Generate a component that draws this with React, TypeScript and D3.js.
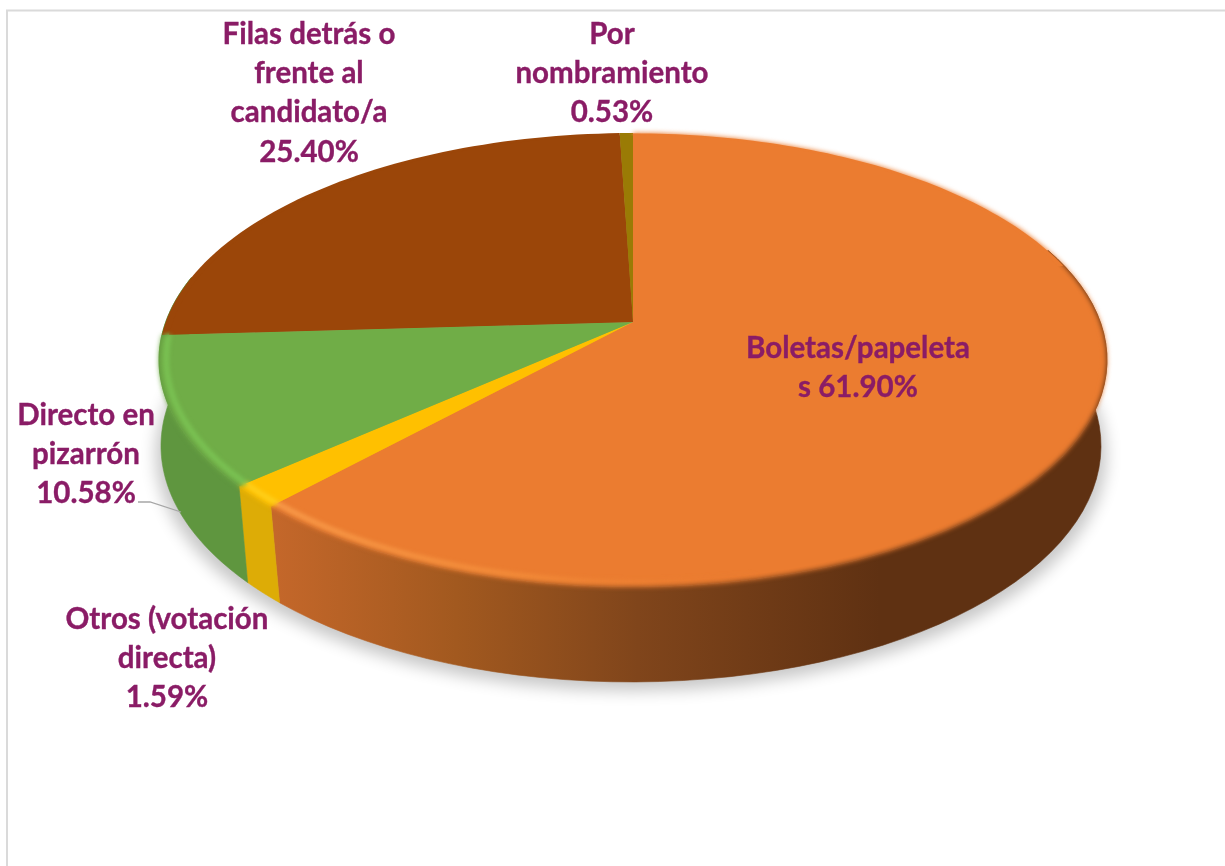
import React from "react";
import * as d3 from "d3";

const categories = ["Boletas/papeletas", "Otros (votación directa)", "Directo en pizarrón", "Filas detrás o frente al candidato/a", "Por nombramiento"];
const shares = [61.9, 1.59, 10.58, 25.4, 0.53];
const valueLabels = ["61.90%", "1.59%", "10.58%", "25.40%", "0.53%"];
const labelLines = [
  ["Boletas/papeleta", "s 61.90%"],
  ["Otros (votación", "directa)", "1.59%"],
  ["Directo en", "pizarrón", "10.58%"],
  ["Filas detrás o", "frente al", "candidato/a", "25.40%"],
  ["Por", "nombramiento", "0.53%"],
];

const W = 1225, H = 866;
const topColors = ["#EB7C30", "#FFC000", "#70AD47", "#9B4609", "#9A7B05"];
const wallColors = ["url(#wallOrange)", "#DDAC06", "#5F963F", "none", "none"];
const rimColors = ["url(#rimOrange)", "#FFD21E", "#7CC655", "none", "none"];
const labelPos = [
  { x: 858, y: 358 },
  { x: 167, y: 629 },
  { x: 86, y: 425 },
  { x: 309, y: 44 },
  { x: 612, y: 44 },
];
const lineStep = 39.2;

// Perspective projection of the unit disc onto the page
const CX = 633, CY = 322, K = 0.1674, A = 220.6, B = 467.3;
const BOT_CX = 631, BOT_CY = 414.1, BOT_K = 0.135, BOT_A = 231.7, BOT_B = 465.7;
const top = (a: number, s = 1): [number, number] => {
  const x = Math.sin(a) * s, y = -Math.cos(a) * s, w = 1 - K * y;
  return [CX + (B * x) / w, CY + (A * y) / w];
};
const bottom = (a: number): [number, number] => {
  const x = Math.sin(a), y = -Math.cos(a), w = 1 - BOT_K * y;
  return [BOT_CX + (BOT_B * x) / w, BOT_CY + (BOT_A * y) / w];
};
const samples = (a0: number, a1: number) => d3.range(0, 61).map((i) => a0 + ((a1 - a0) * i) / 60);
const line = d3.line();

const arcs = d3.pie<number>().sort(null).startAngle(0).endAngle(2 * Math.PI)(shares);
const VIS0 = (70 * Math.PI) / 180, VIS1 = (282 * Math.PI) / 180;
const sectorPath = (d: d3.PieArcDatum<number>, s: number) =>
  line([[CX, CY], ...samples(d.startAngle, d.endAngle).map((a) => top(a, s))])! + "Z";

export default function App() {
  return (
    <svg width={W} height={H} viewBox={`0 0 ${W} ${H}`} style={{ position: "fixed", left: 0, top: 0, background: "#fff" }}>
      <defs>
        <linearGradient id="wallOrange" gradientUnits="userSpaceOnUse" x1={275} x2={880} y1={0} y2={0}>
          <stop offset="0" stopColor="#C4672A" />
          <stop offset="0.3" stopColor="#A2591F" />
          <stop offset="0.6" stopColor="#80451B" />
          <stop offset="1" stopColor="#5F3112" />
        </linearGradient>
        <linearGradient id="rimOrange" gradientUnits="userSpaceOnUse" x1={275} x2={760} y1={0} y2={0}>
          <stop offset="0" stopColor="#FBA04F" />
          <stop offset="0.5" stopColor="#F8963F" stopOpacity={0.7} />
          <stop offset="1" stopColor="#EB7C30" stopOpacity={0} />
        </linearGradient>
        <filter id="shadow" x="-10%" y="-10%" width="120%" height="120%" colorInterpolationFilters="sRGB"><feGaussianBlur stdDeviation={8} /></filter>
        <filter id="soft" x="-5%" y="-5%" width="110%" height="110%" colorInterpolationFilters="sRGB"><feGaussianBlur stdDeviation={2.4} /></filter>
        <filter id="slight" x="-5%" y="-5%" width="110%" height="110%" colorInterpolationFilters="sRGB"><feGaussianBlur stdDeviation={0.6} /></filter>
        <filter id="rim" x="-5%" y="-5%" width="110%" height="110%" colorInterpolationFilters="sRGB"><feGaussianBlur stdDeviation={2} /></filter>
      </defs>

      <path d={`M7 866V10.5H${W}`} fill="none" stroke="#DADADA" strokeWidth={2} />

      {/* floor shadow */}
      <path
        d={line(samples(0, 2 * Math.PI).map((a) => { const [x, y] = bottom(a); return [x + (x - CX) * 0.012, y + 9] as [number, number]; }))! + "Z"}
        fill="#000" opacity={0.22} filter="url(#shadow)"
      />

      {/* side walls, plus a ring just inside the rim so the soft edge blends into them */}
      {arcs.map((d, i) => {
        if (wallColors[i] === "none") return null;
        const a0 = Math.max(d.startAngle, VIS0);
        const a1 = i === 2 ? VIS1 : Math.min(d.endAngle, VIS1);
        const s = samples(a0, a1);
        const rev = [...s].reverse();
        const wall = [...s.map((a) => top(a)), ...rev.map((a) => bottom(a))];
        const ring = [...s.map((a) => top(a, 0.96)), ...rev.map((a) => top(a))];
        return (
          <g key={categories[i]} fill={wallColors[i]} stroke={wallColors[i]} strokeWidth={0.6}>
            <path d={line(wall)! + "Z"} />
            <path d={line(ring)! + "Z"} />
          </g>
        );
      })}

      {/* crisp back of the disc so no wall shows behind the far slices */}
      {arcs.map((d, i) => (i >= 3 ? <path key={categories[i]} d={sectorPath(d, 1)} fill={topColors[i]} filter="url(#slight)" /> : null))}
      <path d={line(samples(0, 1.3).map((a) => top(a, 0.998)).concat([[CX, CY]]))! + "Z"} fill={topColors[0]} filter="url(#slight)" />

      {/* top faces: soft outer layer, then crisp inner layer */}
      <g filter="url(#soft)">
        {arcs.map((d, i) => (i < 3 ? <path key={categories[i]} d={sectorPath(d, 1)} fill={topColors[i]} /> : null))}
      </g>
      <g filter="url(#slight)">
        {arcs.map((d, i) => <path key={categories[i]} d={sectorPath(d, 0.985)} fill={topColors[i]} />)}
      </g>

      {/* bevel highlight on the near rim */}
      <g filter="url(#rim)">
        {arcs.map((d, i) =>
          rimColors[i] === "none" ? null : (
            <path
              key={categories[i]}
              d={line(samples(Math.max(d.startAngle, 2.9), Math.min(d.endAngle, 4.66)).map((a) => top(a, 0.985)))!}
              fill="none" stroke={rimColors[i]} strokeWidth={5} opacity={0.9}
            />
          )
        )}
      </g>

      {/* leader line */}
      <path d="M138 502H150L181 512" fill="none" stroke="#A6A6A6" strokeWidth={1.3} />

      {/* labels */}
      {labelLines.map((lines, i) => (
        <text key={categories[i]} x={labelPos[i].x} y={labelPos[i].y} textAnchor="middle"
          fontFamily="Lato, Carlito, sans-serif" fontWeight={700} fontSize={29.5} fill="#8A1C66"
          stroke="#8A1C66" strokeWidth={0.35} aria-label={`${categories[i]} ${valueLabels[i]}`}>
          {lines.map((t, j) => (
            <tspan key={j} x={labelPos[i].x} y={labelPos[i].y + j * lineStep}>{t}</tspan>
          ))}
        </text>
      ))}
    </svg>
  );
}
